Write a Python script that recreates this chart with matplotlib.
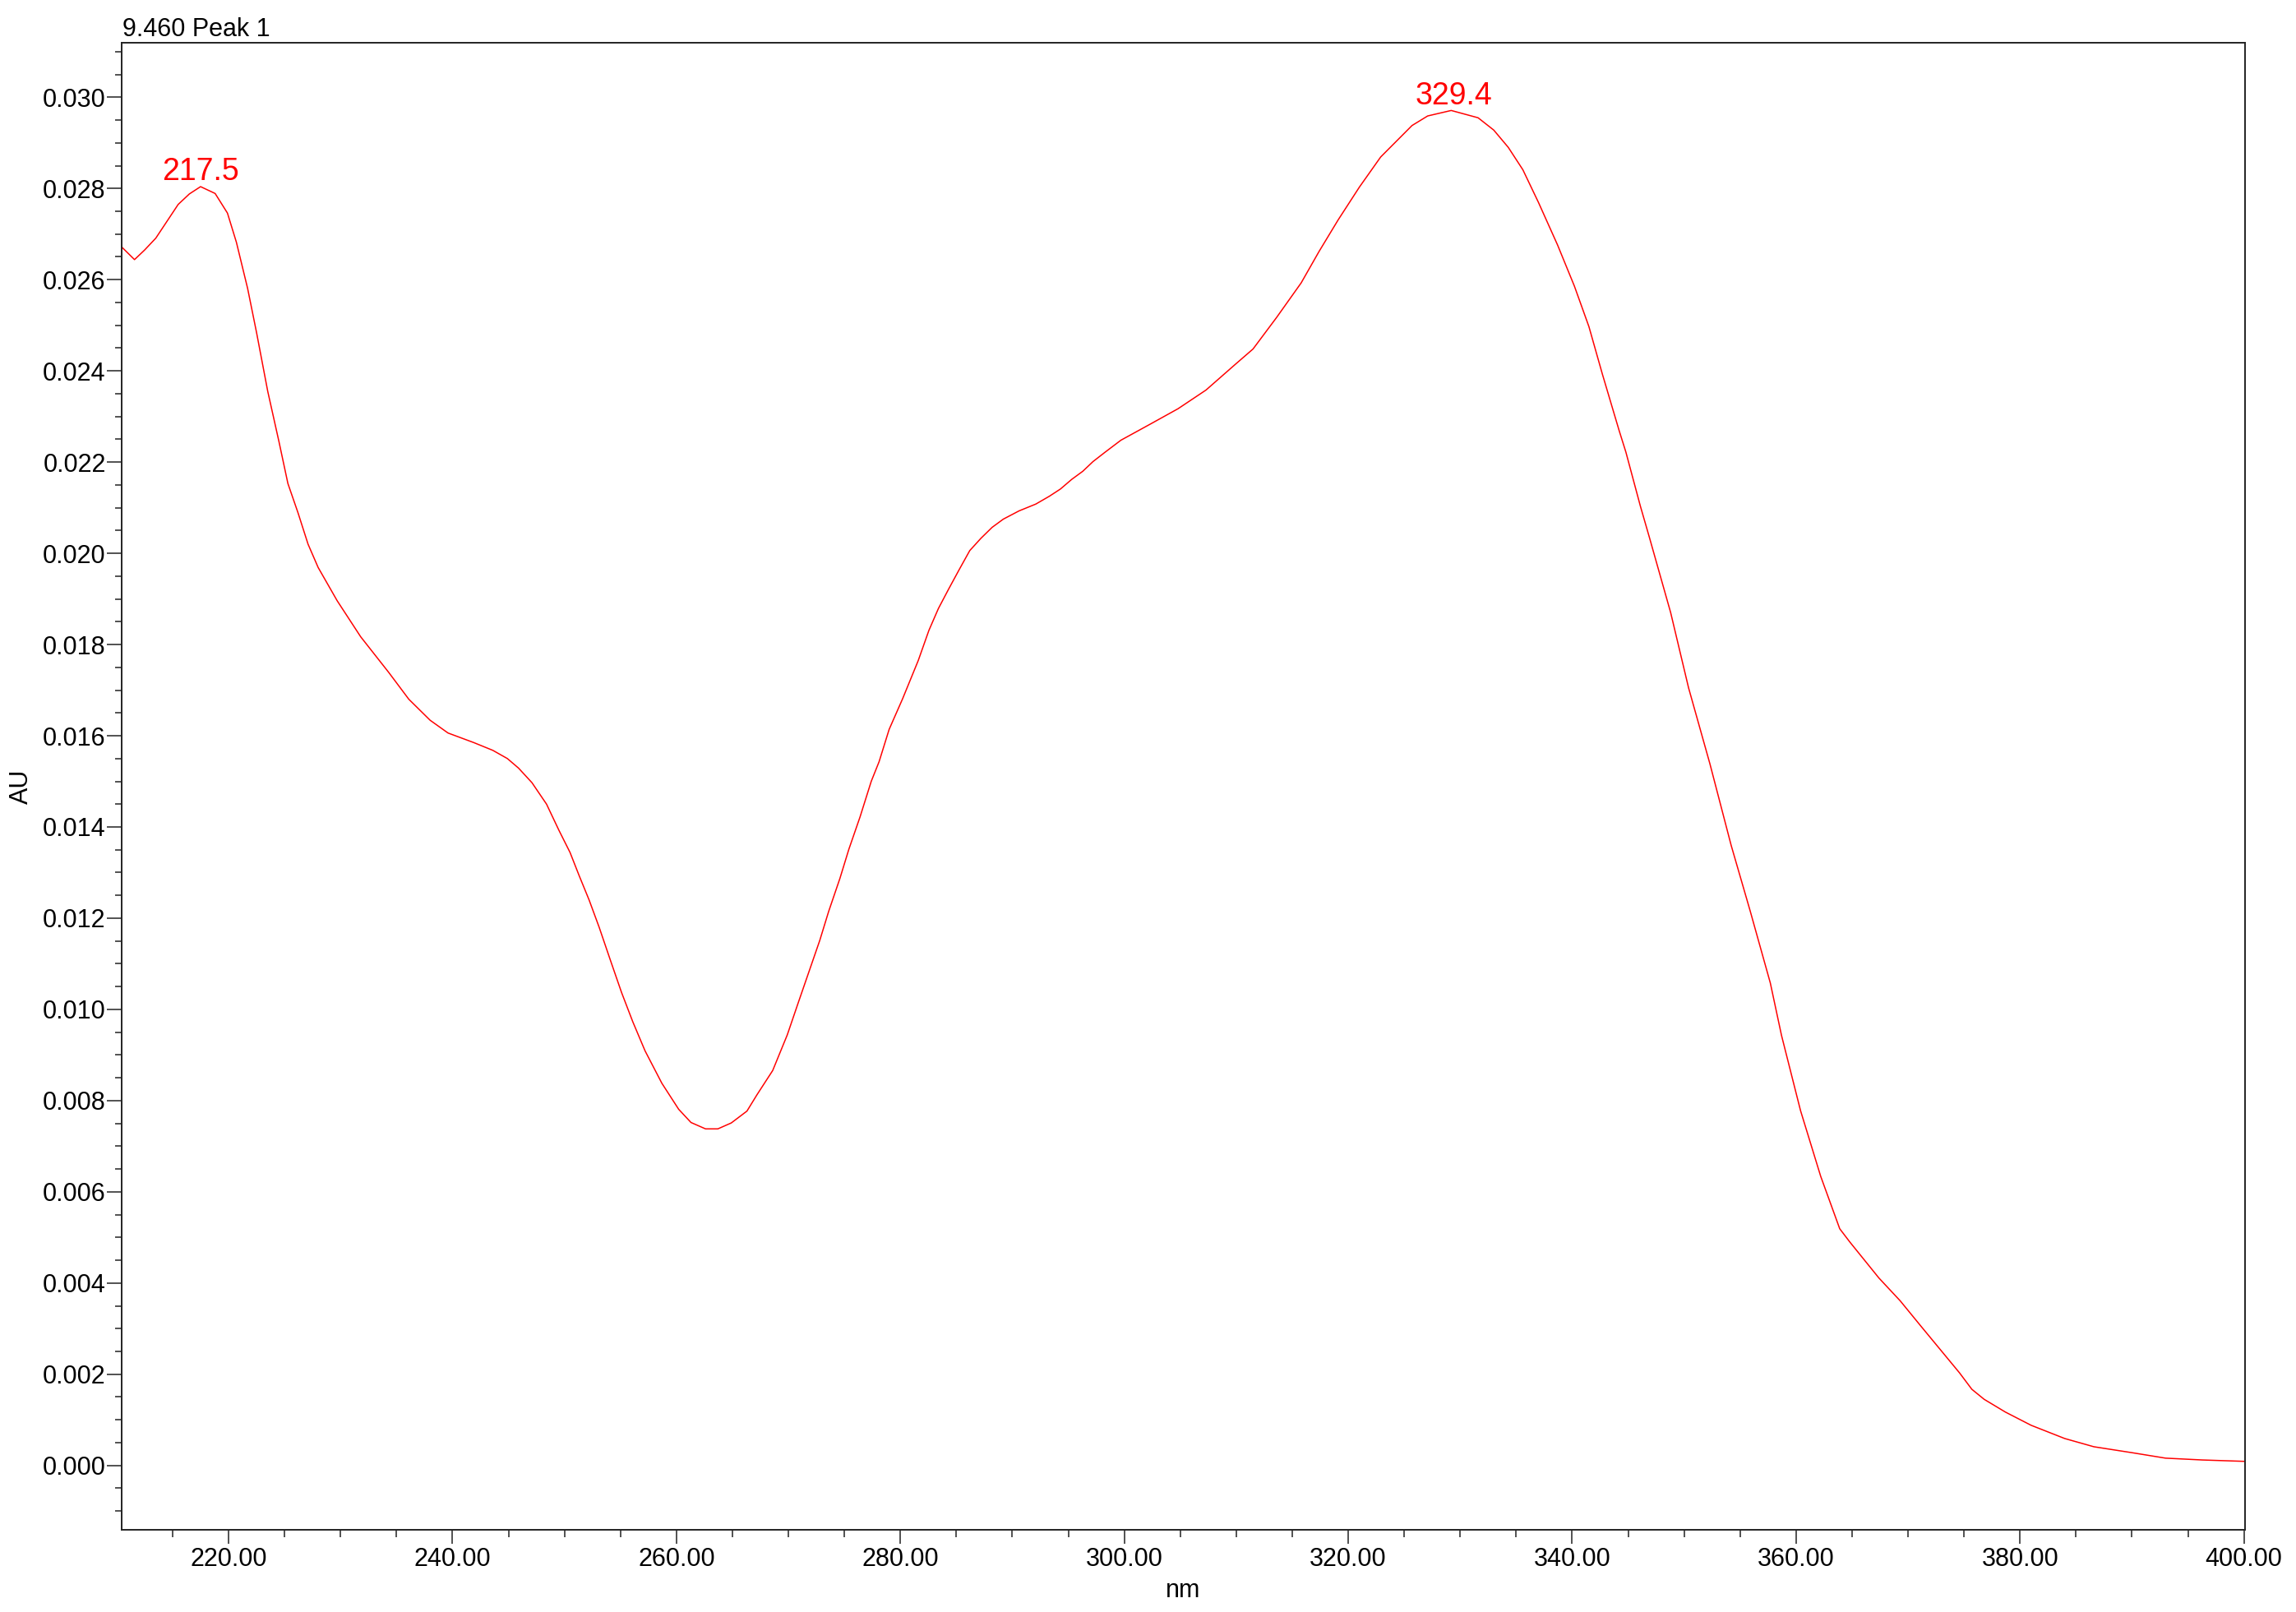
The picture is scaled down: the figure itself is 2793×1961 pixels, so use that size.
import numpy as np
import matplotlib
matplotlib.use("Agg")
import matplotlib.pyplot as plt
from matplotlib.ticker import MultipleLocator, FormatStrFormatter

# spectrum (nm, AU)
wavelength = [
    210.4, 211.6, 212.5, 213.5, 214.5, 215.5, 216.5, 217.5, 218.8, 219.9,
    220.7, 221.7, 222.5, 223.5, 224.5, 225.3, 226.2, 227.1, 228.0, 229.7,
    231.8, 234.3, 236.1, 238.0, 239.6, 241.9, 243.6, 244.9, 245.9, 247.1,
    248.4, 249.5, 250.5, 251.3, 252.2, 253.1, 254.1, 255.1, 256.1, 257.2,
    258.7, 260.2, 261.3, 262.6, 263.7, 264.9, 266.3, 267.2, 268.6, 269.9,
    270.9, 271.8, 272.8, 273.6, 274.6, 275.4, 276.4, 277.4, 278.1, 279.0,
    280.2, 281.6, 282.55, 283.4, 284.3, 285.25, 286.2, 287.2, 288.2, 289.2,
    290.6, 292.1, 293.3, 294.3, 295.3, 296.3, 297.2, 298.3, 299.7, 302.3,
    304.8, 307.3, 309.9, 311.5, 313.6, 315.8, 317.4, 319.1, 321.0, 322.9,
    325.7, 327.1, 329.2, 331.6, 333.0, 334.3, 335.6, 337.0, 338.7, 340.2,
    341.5, 342.7, 344.2, 344.8, 346.1, 346.9, 348.8, 350.4, 352.3, 354.2,
    355.9, 357.7, 358.7, 360.4, 362.2, 363.9, 364.8, 367.4, 369.3, 371.2,
    374.6, 375.7, 376.8, 378.7, 381.0, 384.0, 386.6, 390.0, 393.0, 396.3,
    400.0,
]
absorbance = [
    0.02673, 0.02644, 0.02665, 0.02691, 0.02728, 0.02765, 0.02788, 0.02804, 0.02789, 0.02746,
    0.02682, 0.02581, 0.02484, 0.02355, 0.02245, 0.02153, 0.02089, 0.02020, 0.01969, 0.01896,
    0.01817, 0.01739, 0.01680, 0.01634, 0.01606, 0.01585, 0.01568, 0.01550, 0.01529, 0.01497,
    0.01450, 0.01393, 0.01344, 0.01294, 0.01240, 0.01180, 0.01108, 0.01037, 0.00973, 0.00909,
    0.00838, 0.00781, 0.00752, 0.00738, 0.00738, 0.00751, 0.00777, 0.00813, 0.00866, 0.00944,
    0.01016, 0.01080, 0.01151, 0.01215, 0.01287, 0.01351, 0.01422, 0.01500, 0.01543, 0.01614,
    0.01681, 0.01765, 0.01831, 0.01879, 0.01921, 0.01964, 0.02006, 0.02033, 0.02057, 0.02075,
    0.02093, 0.02108, 0.02125, 0.02141, 0.02162, 0.02180, 0.02201, 0.02222, 0.02248, 0.02283,
    0.02317, 0.02358, 0.02414, 0.02448, 0.02517, 0.02593, 0.02662, 0.02731, 0.02803, 0.02869,
    0.02938, 0.02959, 0.02971, 0.02955, 0.02928, 0.02890, 0.02841, 0.02769, 0.02676, 0.02586,
    0.02497, 0.02393, 0.02269, 0.02222, 0.02103, 0.02035, 0.01870, 0.01705, 0.01539, 0.01360,
    0.01216, 0.01058, 0.00943, 0.00778, 0.00634, 0.00519, 0.00490, 0.00411, 0.00361, 0.00304,
    0.00203, 0.00167, 0.00145, 0.00117, 0.00088, 0.00059, 0.00041, 0.00028, 0.00016, 0.00012,
    0.00009,
]
peak_wl = [217.5, 329.4]
peak_labels = ["217.5", "329.4"]
title = "9.460 Peak 1"

plt.rcParams['font.family'] = ['Liberation Sans', 'DejaVu Sans']

W, H = 2793, 1961
fig = plt.figure(figsize=(W / 100, H / 100), dpi=100)
ax = fig.add_axes([147.7 / W, 1 - 1861 / H, (2731 - 147.7) / W, (1861 - 52) / H])

ax.plot(wavelength, absorbance, color='#ff0000', lw=1.1)

ax.set_xlim(210.43, 400.1)
ax.set_ylim(-0.001411, 0.031195)

ax.xaxis.set_major_locator(MultipleLocator(20))
ax.xaxis.set_minor_locator(MultipleLocator(5))
ax.yaxis.set_major_locator(MultipleLocator(0.002))
ax.yaxis.set_minor_locator(MultipleLocator(0.0005))
ax.xaxis.set_major_formatter(FormatStrFormatter('%.2f'))
ax.yaxis.set_major_formatter(FormatStrFormatter('%.3f'))

for s in ax.spines.values():
    s.set_linewidth(1.4)
    s.set_color('#222222')
ax.tick_params(which='both', direction='out', width=1.1, color='#222222', labelsize=22)
ax.tick_params(axis='x', which='major', length=12.2, pad=3.0)
ax.tick_params(axis='x', which='minor', length=6.5)
ax.tick_params(axis='y', which='major', length=13, pad=0.7)
ax.tick_params(axis='y', which='minor', length=6)

ax.set_xlabel('nm', fontsize=22)
ax.xaxis.set_label_coords(0.5, (1861 - 1935) / 1809)
ax.xaxis.label.set_va('center')
ax.set_ylabel('AU', fontsize=22)
ax.yaxis.set_label_coords((26 - 147.7) / 2583.3, 0.5)
ax.yaxis.label.set_va('center')

# peak labels
for wl, lab in zip(peak_wl, peak_labels):
    y = np.interp(wl, wavelength, absorbance)
    ax.annotate(lab, (wl, y), xytext=(0, 6), textcoords='offset points',
                ha='center', va='baseline', color='#ff0000', fontsize=27)

fig.text(149 / W, 1 - 44 / H, title, fontsize=22, ha='left', va='baseline')

fig.savefig('out.png', dpi=100, facecolor='white')
